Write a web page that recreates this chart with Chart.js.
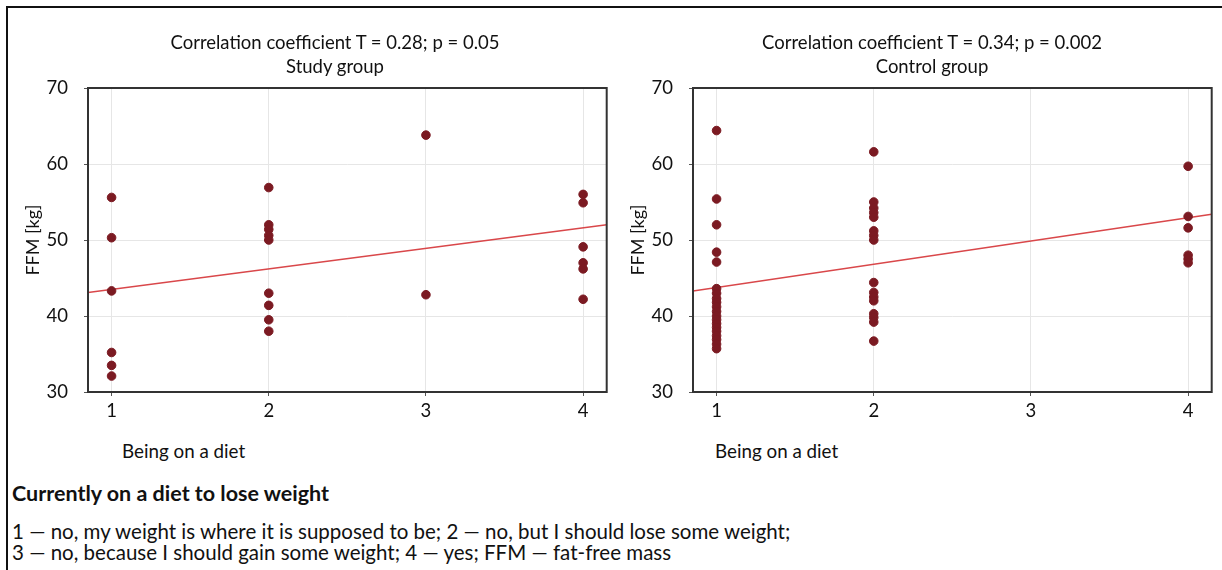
<!DOCTYPE html>
<html>
<head>
<meta charset="utf-8">
<script src="https://cdn.jsdelivr.net/npm/chart.js@4/dist/chart.umd.min.js"></script>
<style>
    body { margin: 0; background: #fff; font-family: Lato, "Noto Sans", sans-serif; }
    #page { position: relative; width: 1222px; height: 570px; overflow: hidden; }
    #frame { position: absolute; left: 6px; top: 6px; width: 1230px; height: 580px; border-left: 2px solid #111; border-top: 2px solid #111; }
    .box { position: absolute; top: 0; width: 612px; height: 420px; }
    .ctitle { position: absolute; top: 30px; width: 500px; text-align: center; font-size: 18.5px; line-height: 24px; color: #111; }
    .xtitle { position: absolute; top: 439px; font-size: 18.8px; color: #111; }
    #caption { position: absolute; left: 12px; top: 479px; color: #111; }
    #caption h3 { margin: 0 0 14px 0; font-size: 21.5px; font-weight: 700; line-height: 28px; }
    #caption p { margin: 0; font-size: 20.5px; line-height: 21px; white-space: nowrap; }
</style>
</head>
<body>
<div id="page">
    <div id="frame"></div>
    <div class="box" style="left:0"><canvas id="studyChart"></canvas></div>
    <div class="box" style="left:605px"><canvas id="controlChart"></canvas></div>
    <div class="ctitle" id="studyTitle" style="left:85px"></div>
    <div class="ctitle" id="controlTitle" style="left:682px"></div>
    <div class="xtitle" style="left:122px">Being on a diet</div>
    <div class="xtitle" style="left:715px">Being on a diet</div>
    <div id="caption">
        <h3>Currently on a diet to lose weight</h3>
        <p>1 — no, my weight is where it is supposed to be; 2 — no, but I should lose some weight;</p>
        <p>3 — no, because I should gain some weight; 4 — yes; FFM — fat-free mass</p>
    </div>
</div>
<script>
// Data
const xTicks = [1, 2, 3, 4];
const xRange = [0.85, 4.15];

const studyX = [1, 1, 1, 1, 1, 1,
    2, 2, 2, 2, 2, 2, 2, 2, 2,
    3, 3,
    4, 4, 4, 4, 4, 4];
const studyY = [55.6, 50.3, 43.3, 35.2, 33.5, 32.1,
    56.9, 52.0, 51.4, 50.6, 50.0, 43.0, 41.4, 39.5, 38.0,
    63.8, 42.8,
    56.0, 54.9, 49.1, 47.0, 46.2, 42.2];
const studyFitY = [43.1, 52.0];

const controlX = [1, 1, 1, 1, 1, 1, 1, 1, 1, 1, 1, 1, 1, 1, 1, 1, 1, 1, 1, 1,
    2, 2, 2, 2, 2, 2, 2, 2, 2, 2, 2, 2, 2, 2, 2, 2,
    4, 4, 4, 4, 4, 4];
const controlY = [64.4, 55.4, 52.0, 48.4, 47.1, 43.6, 43.0, 42.3, 41.8, 41.2, 40.6, 40.0, 39.5, 39.0, 38.5, 38.0, 37.4, 36.9, 36.3, 35.7,
    61.6, 55.0, 54.2, 53.6, 53.0, 51.2, 50.6, 50.0, 44.4, 43.1, 42.5, 42.0, 40.3, 39.8, 39.2, 36.7,
    59.7, 53.1, 51.6, 48.0, 47.5, 47.0];
const controlFitY = [43.3, 53.4];

const studyTitle = ['Correlation coefficient T = 0.28; p = 0.05', 'Study group'];
const controlTitle = ['Correlation coefficient T = 0.34; p = 0.002', 'Control group'];

const FONT = 'Lato, "Noto Sans", sans-serif';
const dotColor = '#7b1a22';
const lineColor = '#d9474a';

// Dark frame round the plot area
const frameBox = {
    id: 'frameBox',
    afterDraw(chart) {
        const a = chart.chartArea;
        const ctx = chart.ctx;
        ctx.save();
        ctx.strokeStyle = '#333';
        ctx.lineWidth = 2;
        ctx.strokeRect(a.left, a.top, a.right - a.left, a.bottom - a.top);
        ctx.restore();
    }
};

function makeChart(id, xs, ys, fitY) {
    const points = xs.map((x, i) => ({ x: x, y: ys[i] }));
    const fit = [{ x: xRange[0], y: fitY[0] }, { x: xRange[1], y: fitY[1] }];
    return new Chart(document.getElementById(id), {
        type: 'scatter',
        data: {
            datasets: [{
                data: fit,
                type: 'line',
                showLine: true,
                borderColor: lineColor,
                borderWidth: 1.5,
                pointRadius: 0,
                order: 2
            }, {
                data: points,
                backgroundColor: dotColor,
                borderColor: dotColor,
                pointRadius: 4.3,
                order: 1
            }]
        },
        options: {
            responsive: true,
            maintainAspectRatio: false,
            animation: false,
            layout: { padding: { right: 4, top: 88 } },
            plugins: {
                legend: { display: false },
                tooltip: { enabled: false }
            },
            scales: {
                x: {
                    type: 'linear',
                    min: xRange[0],
                    max: xRange[1],
                    afterBuildTicks: axis => { axis.ticks = xTicks.map(v => ({ value: v })); },
                    afterFit: axis => { axis.height = 28; },
                    grid: { color: '#e6e6e6', tickLength: 4, tickColor: '#555' },
                    border: { display: false },
                    ticks: { color: '#111', font: { family: FONT, size: 18.5 }, padding: 4 }
                },
                y: {
                    min: 30,
                    max: 70,
                    afterFit: axis => { axis.width = 88; },
                    grid: { color: '#e6e6e6', tickLength: 4, tickColor: '#555' },
                    border: { display: false },
                    ticks: { stepSize: 10, color: '#111', font: { family: FONT, size: 18.5 }, padding: 16 },
                    title: {
                        display: true,
                        text: 'FFM [kg]',
                        color: '#111',
                        font: { family: FONT, size: 18 },
                        padding: { top: 22, bottom: 0 }
                    }
                }
            }
        },
        plugins: [frameBox]
    });
}

document.getElementById('studyTitle').innerHTML = studyTitle.join('<br>');
document.getElementById('controlTitle').innerHTML = controlTitle.join('<br>');

makeChart('studyChart', studyX, studyY, studyFitY);
makeChart('controlChart', controlX, controlY, controlFitY);
</script>
</body>
</html>
